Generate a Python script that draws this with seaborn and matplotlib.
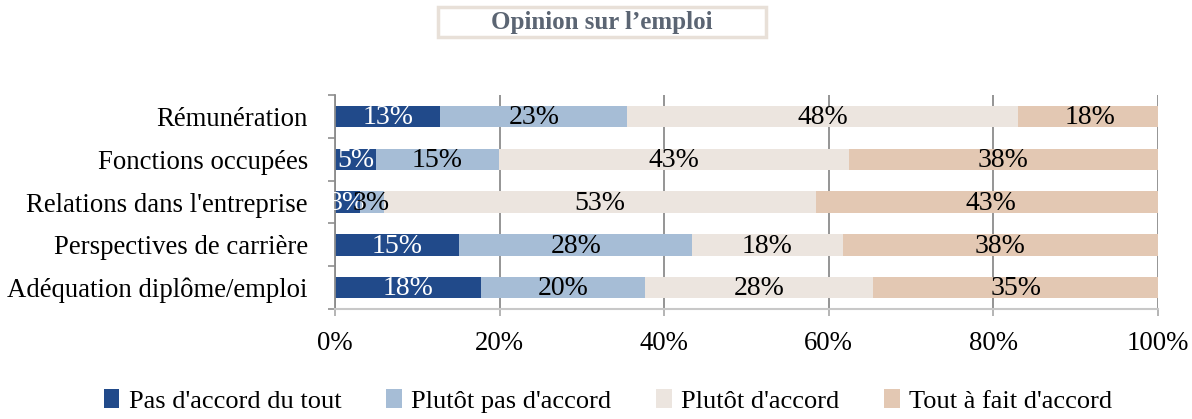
import numpy as np
import pandas as pd
import seaborn as sns
import matplotlib
matplotlib.use("Agg")
import matplotlib.pyplot as plt
from matplotlib.patches import Patch, Rectangle

categories = ["Rémunération", "Fonctions occupées", "Relations dans l'entreprise",
              "Perspectives de carrière", "Adéquation diplôme/emploi"]
series = ["Pas d'accord du tout", "Plutôt pas d'accord", "Plutôt d'accord", "Tout à fait d'accord"]
pas_du_tout = [12.8, 5.0, 3.0, 15.1, 17.8]
plutot_pas = [22.7, 14.9, 2.9, 28.3, 19.9]
plutot = [47.5, 42.5, 52.5, 18.3, 27.7]
tout_a_fait = [17.5, 37.6, 42.5, 38.3, 34.6]
xticks = [0, 20, 40, 60, 80, 100]
xtick_labels = ["0%", "20%", "40%", "60%", "80%", "100%"]
colors = ["#214a8a", "#a6bdd6", "#ece5df", "#e3c8b3"]
label_colors = ["white", "black", "black", "black"]

values = np.array([pas_du_tout, plutot_pas, plutot, tout_a_fait])
cum = np.cumsum(values, axis=0)

sns.set_theme(style="white")
plt.rcParams["font.family"] = ["Liberation Serif", "DejaVu Serif"]
plt.rcParams["text.color"] = "black"
plt.rcParams["xtick.color"] = "black"
plt.rcParams["ytick.color"] = "black"

fig = plt.figure(figsize=(11.92, 4.19), dpi=100)
ax = fig.add_axes([335 / 1192, 1 - 309 / 419, (1158 - 335) / 1192, (309 - 95) / 419])

# draw from the full stack down so each segment shows its own series
for i in range(len(series) - 1, -1, -1):
    df = pd.DataFrame({"cat": categories, "val": cum[i]})
    sns.barplot(data=df, x="val", y="cat", orient="h", color=colors[i],
                width=0.5, linewidth=0, saturation=1, ax=ax, zorder=2)

ax.set_xlim(0, 100)
ax.set_ylim(4.5, -0.5)
ax.set_xticks(xticks)
ax.set_xticklabels(xtick_labels, fontsize=19.3)
ax.set_xlabel("")
ax.set_ylabel("")
ax.set_yticks(np.arange(len(categories)), minor=False)
ax.set_yticks(np.arange(len(categories) + 1) - 0.5, minor=True)
ax.tick_params(axis="y", which="major", labelsize=19.3, length=0, pad=19.5, labelcolor="black")
ax.tick_params(axis="y", which="minor", length=5, color="#909090", width=1.2, direction="out", left=True)
ax.tick_params(axis="x", length=5, color="#a8a8a8", width=1.2, direction="out", pad=11,
               bottom=True, labelcolor="black")

ax.grid(axis="x", color="#8c8c8c", linewidth=1.3, zorder=0)
ax.set_axisbelow(True)
for s in ["top", "right"]:
    ax.spines[s].set_visible(False)
ax.spines["left"].set_color("#8c8c8c")
ax.spines["left"].set_linewidth(1.3)
ax.spines["bottom"].set_color("#c8c8c8")
ax.spines["bottom"].set_linewidth(1.5)

# data labels
for i in range(len(series)):
    starts = cum[i] - values[i]
    for j in range(len(categories)):
        center = starts[j] + values[i][j] / 2
        ax.text(center, j + 0.03, f"{int(values[i][j] + 0.5)}%", ha="center", va="center",
                fontsize=20, color=label_colors[i], zorder=5)

# title box
fig.patches.append(Rectangle((438 / 1192, 1 - 37 / 419), (766 - 438) / 1192, 30 / 419,
                             transform=fig.transFigure, facecolor="white",
                             edgecolor="#e8e0d8", linewidth=2.5))
fig.text(602 / 1192, 1 - 22 / 419, "Opinion sur l\u2019emploi", ha="center", va="center",
         fontsize=18, fontweight="bold", color="#5b6573")

handles = [Patch(facecolor=c, edgecolor="none") for c in colors]
fig.legend(handles, series, loc="center", bbox_to_anchor=(608 / 1192, 1 - 401 / 419), ncol=4,
           frameon=False, fontsize=19, handlelength=0.6, handleheight=0.75,
           handletextpad=0.35, columnspacing=1.7)

fig.savefig("out.png", dpi=100)
